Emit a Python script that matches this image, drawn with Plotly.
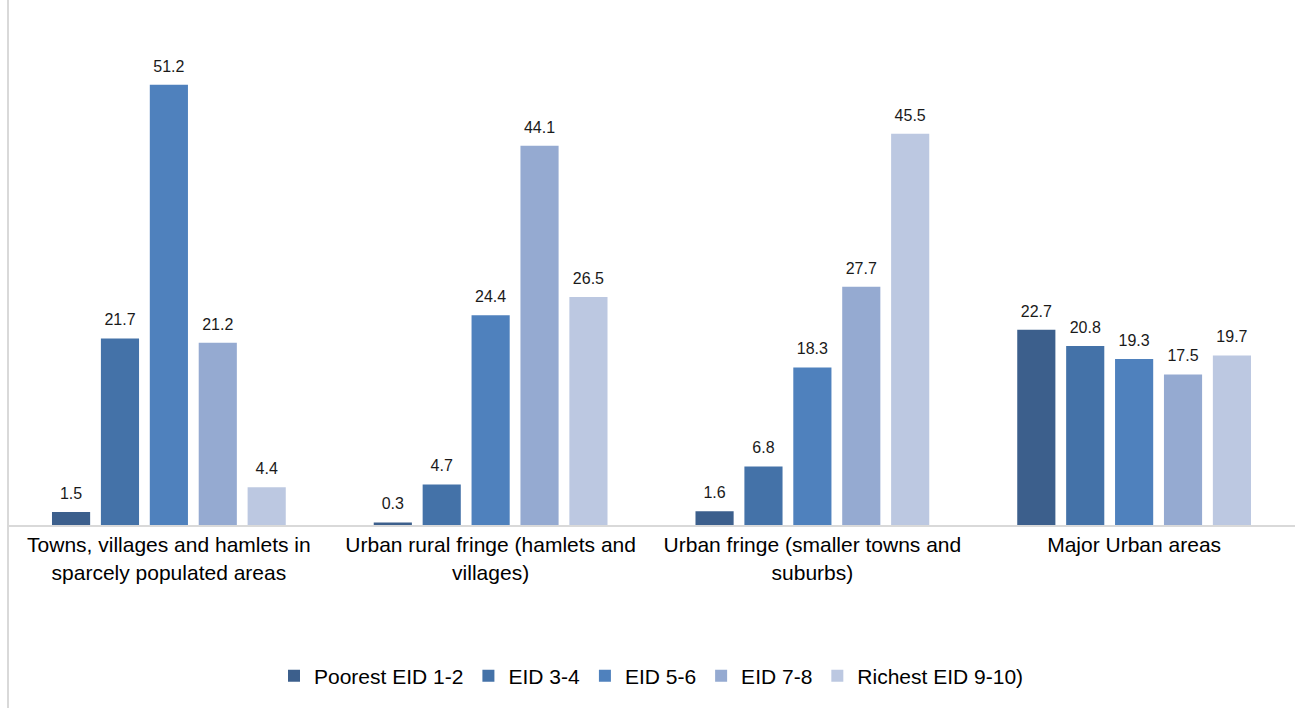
import plotly.graph_objects as go

categories = [
    "Towns, villages and hamlets in<br>sparcely populated areas",
    "Urban rural fringe (hamlets and<br>villages)",
    "Urban fringe (smaller towns and<br>suburbs)",
    "Major Urban areas",
]
series_names = ["Poorest EID 1-2", "EID 3-4", "EID 5-6", "EID 7-8", "Richest EID 9-10)"]
poorest = [1.5, 0.3, 1.6, 22.7]
eid34 = [21.7, 4.7, 6.8, 20.8]
eid56 = [51.2, 24.4, 18.3, 19.3]
eid78 = [21.2, 44.1, 27.7, 17.5]
richest = [4.4, 26.5, 45.5, 19.7]
colors = ["#3C5F8C", "#4472A8", "#4F81BD", "#95AAD1", "#BCC8E1"]

values = [poorest, eid34, eid56, eid78, richest]
font_family = "Liberation Sans, Arial, sans-serif"

fig = go.Figure()
for i, (name, vals, col) in enumerate(zip(series_names, values, colors)):
    fig.add_trace(go.Bar(
        name=name, x=categories, y=vals,
        offsetgroup=f"g{i}",
        marker=dict(color=col, line=dict(width=0)),
        cliponaxis=False,
        hoverinfo="skip",
    ))
for i, vals in enumerate(values):
    fig.add_trace(go.Scatter(
        x=categories, y=vals,
        offsetgroup=f"g{i}",
        mode="markers+text",
        text=[f"{v:.1f}" for v in vals],
        textposition="top center",
        marker=dict(size=13, color="rgba(0,0,0,0)", line=dict(width=0)),
        textfont=dict(size=16, color="#1a1a1a", family=font_family),
        cliponaxis=False,
        showlegend=False,
        hoverinfo="skip",
    ))

fig.update_layout(
    width=1301, height=708,
    barmode="group",
    bargap=0.24,
    bargroupgap=0.22,
    scattermode="group",
    scattergap=0.24,
    plot_bgcolor="white",
    paper_bgcolor="white",
    margin=dict(l=8, r=6, t=9, b=183, autoexpand=False),
    font=dict(family=font_family, color="#000000"),
    showlegend=True,
    legend=dict(
        orientation="h", x=0.5, xanchor="center", y=-0.293, yanchor="middle",
        font=dict(size=21, color="#000000", family=font_family),
        itemwidth=30, traceorder="normal",
    ),
    xaxis=dict(
        showline=True, linecolor="#D9D9D9", linewidth=2,
        ticks="", tickfont=dict(size=21, color="#000000", family=font_family),
        showgrid=False,
    ),
    yaxis=dict(
        range=[0, 60], showticklabels=False, showgrid=False,
        zeroline=False, showline=False, ticks="",
    ),
    shapes=[dict(
        type="line", xref="paper", yref="paper",
        x0=0, x1=0, y0=-0.5, y1=1.05,
        line=dict(color="#D9D9D9", width=2),
    )],
)

fig.write_html("out.html", post_script="document.body.style.margin='0';",
               config={"displayModeBar": False})
